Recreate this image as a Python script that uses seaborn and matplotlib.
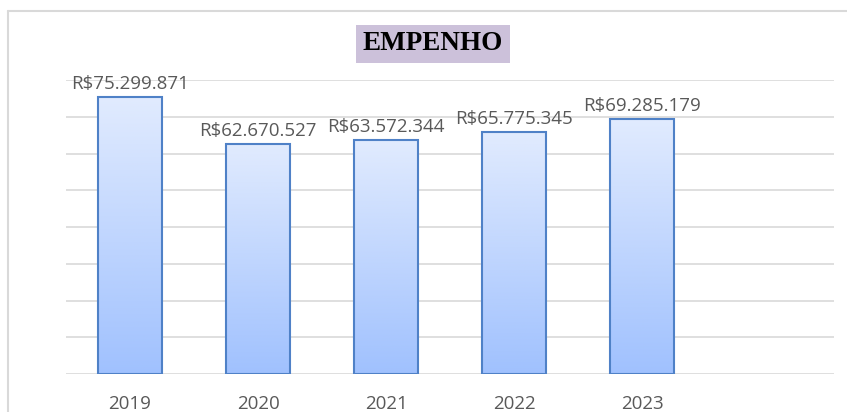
import numpy as np
import pandas as pd
import matplotlib
matplotlib.use("Agg")
import matplotlib.pyplot as plt
from matplotlib.lines import Line2D
from matplotlib.colors import LinearSegmentedColormap
import seaborn as sns

# Data
years = ["2019", "2020", "2021", "2022", "2023", ""]
values = [75299871, 62670527, 63572344, 65775345, 69285179, np.nan]
labels = ["R$75.299.871", "R$62.670.527", "R$63.572.344", "R$65.775.345", "R$69.285.179", ""]

data = pd.DataFrame({"ano": years, "valor": values})

sns.set_theme(style="white")
plt.rcParams['font.family'] = ['Open Sans', 'DejaVu Sans']

fig = plt.figure(figsize=(8.47, 4.12), dpi=100)
ax = fig.add_axes([66 / 847, 1 - 374 / 412, (834 - 66) / 847, (374 - 80) / 412])

sns.barplot(x="ano", y="valor", data=data, ax=ax, width=0.5,
            color="#cfe0fd", edgecolor="#4f81c7", linewidth=1.5, zorder=3)

# gradient fill inside each bar
grad = LinearSegmentedColormap.from_list("grad", ["#a0c1fe", "#e1ebfe"])
for p in ax.patches:
    h = p.get_height()
    if not np.isfinite(h) or h == 0:
        continue
    x0 = p.get_x()
    w = p.get_width()
    img = ax.imshow(np.linspace(0, 1, 256).reshape(-1, 1), cmap=grad, origin="lower",
                    extent=[x0, x0 + w, 0, h], aspect="auto", zorder=3)
    img.set_clip_path(p)
    p.set_facecolor("none")
    p.set_zorder(4)

ax.set_xlim(-0.5, len(years) - 0.5)
ax.set_ylim(0, 80000000)
ax.set_yticks(np.arange(0, 80000001, 10000000))
ax.yaxis.grid(True, color="#d9d9d9", linewidth=1.2, zorder=0)
ax.set_yticklabels([])
ax.tick_params(axis="both", length=0)
ax.tick_params(axis="x", labelsize=13.5, labelcolor="#595959", pad=15)
for s in ax.spines.values():
    s.set_visible(False)
ax.set_xlabel("")
ax.set_ylabel("")

# value labels
for i, (v, lab) in enumerate(zip(values, labels)):
    if lab:
        ax.annotate(lab, (i, v), xytext=(0, 3), textcoords="offset points",
                    ha="center", va="bottom", fontsize=13.5, color="#595959")

# title box
fig.text(433 / 847, 1 - 44 / 412, "EMPENHO", ha="center", va="center",
         fontsize=19.5, fontweight="bold", family="Liberation Serif", color="black",
         bbox=dict(boxstyle="square,pad=0.25", facecolor="#ccc1da", edgecolor="none"))

# outer chart border (top and left edges visible)
bx, by = 8 / 847, 1 - 11 / 412
fig.add_artist(Line2D([bx, 1], [by, by], transform=fig.transFigure,
                      color="#d9d9d9", linewidth=1.5))
fig.add_artist(Line2D([bx, bx], [0, by], transform=fig.transFigure,
                      color="#d9d9d9", linewidth=1.5))

fig.savefig("out.png", dpi=100)
